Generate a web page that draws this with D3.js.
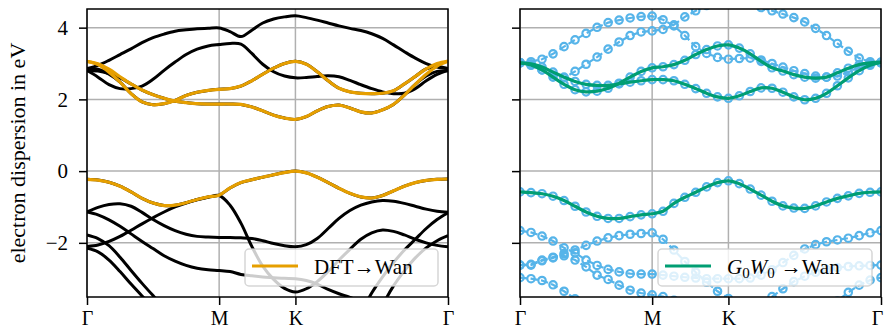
<!DOCTYPE html>
<html><head><meta charset="utf-8">
<script src="https://cdn.jsdelivr.net/npm/d3@7"></script>
<style>body{margin:0;background:#fff} svg{display:block} text{font-family:"Liberation Serif",serif}</style>
</head><body><svg id="c" width="884" height="331"></svg>
<script>
// ---- k-path / axes ----
const kTickPos = [0, 0.5774, 0.9107, 1.5774];
const kTickLabels = ["Γ", "M", "K", "Γ"];
const kSteps = [12, 7, 14];
const yTickValues = [-2, 0, 2, 4];
const yDomain = [-3.51, 4.52];

// ---- left panel: DFT bands (black) ----
const dftA = [2.86,2.95,3.09,3.25,3.41,3.58,3.72,3.82,3.90,3.94,3.97,3.98,3.99, 3.89,3.75,3.93,4.13,4.24,4.30,4.33, 4.28,4.21,4.13,4.05,3.98,3.92,3.83,3.70,3.52,3.33,3.15,3.00,2.90,2.86];
const dftB = [2.81,2.62,2.41,2.30,2.30,2.37,2.56,2.81,3.04,3.25,3.40,3.49,3.53, 3.56,3.54,3.28,2.98,2.77,2.65,2.60, 2.61,2.64,2.66,2.63,2.53,2.41,2.30,2.21,2.16,2.17,2.30,2.52,2.70,2.81];
const dftC = [2.86,2.84,2.70,2.48,2.16,1.93,1.85,1.88,1.97,2.11,2.20,2.25,2.28, 2.30,2.37,2.52,2.70,2.87,3.00,3.06, 2.98,2.77,2.52,2.31,2.21,2.17,2.16,2.17,2.24,2.43,2.64,2.85,2.92,2.86];
const dftD = [2.80,2.79,2.72,2.60,2.43,2.26,2.13,2.03,1.95,1.91,1.88,1.87,1.87, 1.87,1.86,1.79,1.68,1.56,1.48,1.44, 1.52,1.68,1.80,1.84,1.76,1.65,1.62,1.71,1.86,2.12,2.42,2.65,2.78,2.80];
const dftV0 = [-0.23,-0.25,-0.31,-0.42,-0.58,-0.76,-0.89,-0.96,-0.95,-0.88,-0.79,-0.72,-0.67, -0.47,-0.32,-0.24,-0.17,-0.10,-0.04,0.00, -0.05,-0.17,-0.32,-0.48,-0.62,-0.72,-0.75,-0.68,-0.55,-0.42,-0.32,-0.26,-0.23,-0.22];
const dftV1 = [-1.14,-1.01,-0.93,-0.91,-0.98,-1.15,-1.35,-1.52,-1.66,-1.76,-1.82,-1.84,-1.85, -1.85,-1.86,-1.88,-1.94,-2.02,-2.08,-2.11, -2.05,-1.88,-1.60,-1.32,-1.10,-0.95,-0.86,-0.82,-0.84,-0.90,-0.98,-1.06,-1.12,-1.15];
const dftV2 = [-1.14,-1.22,-1.36,-1.54,-1.75,-1.96,-2.16,-2.36,-2.51,-2.63,-2.71,-2.75,-2.77, -2.80,-2.88,-2.92,-2.95,-2.97,-2.99,-3.00, -3.05,-3.15,-3.30,-3.42,-3.52,-3.65,-3.85,-4.05,-4.25,-4.40,-4.50,-4.55,-4.60,-4.60];
const dftV3 = [-2.10,-2.06,-1.96,-1.82,-1.65,-1.47,-1.30,-1.14,-1.00,-0.89,-0.80,-0.73,-0.68, -0.95,-1.45,-2.10,-2.65,-3.02,-3.27,-3.37, -3.28,-3.08,-2.80,-2.48,-2.18,-1.90,-1.72,-1.64,-1.68,-1.78,-1.90,-2.00,-2.07,-2.11];
const dftV4 = [-1.78,-1.88,-2.08,-2.40,-2.77,-3.13,-3.47,-3.80,-4.10,-4.30,-4.45,-4.55,-4.60, -4.60,-4.60,-4.60,-4.60,-4.60,-4.60,-4.60, -4.60,-4.60,-4.60,-4.60,-4.60,-4.55,-4.45,-3.75,-3.20,-2.78,-2.42,-2.14,-1.94,-1.80];
const dftV5 = [-2.15,-2.25,-2.48,-2.80,-3.15,-3.48,-3.80,-4.10,-4.35,-4.50,-4.60,-4.65,-4.70, -4.70,-4.70,-4.70,-4.70,-4.70,-4.70,-4.70, -4.70,-4.70,-4.65,-4.55,-4.40,-3.95,-3.40,-2.95,-2.55,-2.20,-1.90,-1.60,-1.35,-1.16];

// ---- left panel: DFT -> Wannier (orange) ----
const wanC1 = [3.06,2.97,2.76,2.48,2.16,1.93,1.85,1.88,1.97,2.11,2.20,2.25,2.28, 2.30,2.37,2.52,2.70,2.87,3.00,3.06, 2.98,2.77,2.52,2.31,2.21,2.17,2.16,2.17,2.24,2.43,2.64,2.85,3.00,3.07];
const wanC2 = [3.06,2.99,2.84,2.63,2.43,2.26,2.13,2.03,1.95,1.91,1.88,1.87,1.87, 1.87,1.86,1.79,1.68,1.56,1.48,1.44, 1.52,1.68,1.80,1.84,1.76,1.65,1.62,1.71,1.86,2.12,2.42,2.70,2.93,3.06];
const wanV  = [-0.23,-0.25,-0.31,-0.42,-0.58,-0.76,-0.89,-0.96,-0.95,-0.88,-0.79,-0.72,-0.67, -0.47,-0.32,-0.24,-0.17,-0.10,-0.04,0.00, -0.05,-0.17,-0.32,-0.48,-0.62,-0.72,-0.75,-0.68,-0.55,-0.42,-0.32,-0.26,-0.23,-0.22];

// ---- right panel: G0W0 bands (blue circles) ----
const gwP = [3.02,3.05,3.12,3.27,3.47,3.66,3.84,4.01,4.14,4.21,4.27,4.31,4.32, 4.22,4.05,3.78,3.47,3.28,3.17,3.12, 3.14,3.15,3.10,3.00,2.90,2.80,2.72,2.65,2.62,2.65,2.76,2.90,2.98,3.02];
const gwQ = [3.03,2.95,2.82,2.68,2.60,2.78,2.98,3.18,3.40,3.60,3.78,3.88,3.91, 3.95,4.08,4.30,4.47,4.62,4.72,4.76, 4.75,4.68,4.56,4.47,4.38,4.28,4.16,3.98,3.78,3.56,3.34,3.15,3.05,3.02];
const gwR = [3.02,2.96,2.82,2.62,2.42,2.27,2.21,2.23,2.31,2.45,2.62,2.78,2.88, 2.91,2.97,3.09,3.25,3.39,3.49,3.52, 3.43,3.27,3.06,2.88,2.79,2.69,2.62,2.59,2.62,2.74,2.87,2.97,3.02,3.04];
const gwS = [3.02,2.99,2.90,2.76,2.62,2.50,2.42,2.39,2.39,2.43,2.48,2.52,2.55, 2.55,2.52,2.42,2.30,2.17,2.07,2.03, 2.10,2.22,2.32,2.31,2.20,2.07,1.99,2.03,2.17,2.38,2.60,2.80,2.95,3.03];
const gwV0 = [-0.58,-0.60,-0.63,-0.70,-0.82,-0.98,-1.14,-1.26,-1.32,-1.32,-1.27,-1.22,-1.19, -1.12,-0.90,-0.73,-0.59,-0.44,-0.32,-0.27, -0.35,-0.50,-0.67,-0.84,-0.97,-1.03,-1.04,-0.97,-0.86,-0.76,-0.69,-0.62,-0.59,-0.58];
const gwV1 = [-1.66,-1.71,-1.81,-1.95,-2.14,-2.28,-2.48,-2.63,-2.74,-2.81,-2.86,-2.87,-2.87, -2.90,-2.93,-2.96,-2.98,-3.00,-3.00,-3.00, -3.00,-2.98,-2.90,-2.75,-2.55,-2.35,-2.17,-2.05,-1.97,-1.92,-1.87,-1.80,-1.72,-1.66];
const gwV2 = [-2.62,-2.62,-2.50,-2.42,-2.30,-2.20,-2.07,-1.95,-1.86,-1.80,-1.76,-1.74,-1.72, -1.90,-2.20,-2.52,-2.82,-3.10,-3.35,-3.55, -3.72,-3.80,-3.70,-3.50,-3.28,-3.08,-2.93,-2.82,-2.74,-2.69,-2.66,-2.64,-2.63,-2.62];
const gwV3 = [-2.62,-2.60,-2.48,-2.40,-2.36,-2.48,-2.67,-2.90,-3.02,-3.18,-3.32,-3.40,-3.45, -3.50,-3.60,-3.75,-3.90,-4.00,-4.10,-4.10, -4.10,-4.10,-4.10,-4.10,-4.10,-4.10,-4.10,-4.10,-4.10,-4.10,-4.10,-4.10,-4.10,-4.10];
const gwV4 = [-2.97,-3.00,-3.05,-3.17,-3.35,-3.56,-3.80,-4.00,-4.10,-4.10,-4.10,-4.10,-4.10, -4.10,-4.10,-4.10,-4.10,-4.10,-4.10,-4.10, -4.10,-4.10,-4.10,-4.10,-4.10,-4.10,-4.10,-4.10,-4.00,-3.62,-3.38,-3.18,-3.04,-2.97];

// ---- right panel: G0W0 -> Wannier (green) ----
const gwWanC1 = [3.02,2.96,2.82,2.62,2.42,2.27,2.21,2.23,2.31,2.45,2.62,2.78,2.88, 2.91,2.97,3.09,3.25,3.39,3.49,3.52, 3.43,3.27,3.06,2.88,2.79,2.69,2.62,2.59,2.62,2.74,2.87,2.97,3.02,3.04];
const gwWanC2 = [3.02,2.99,2.90,2.76,2.62,2.50,2.42,2.39,2.39,2.43,2.48,2.52,2.55, 2.55,2.52,2.42,2.30,2.17,2.07,2.03, 2.10,2.22,2.32,2.31,2.20,2.07,1.99,2.03,2.17,2.38,2.60,2.80,2.95,3.03];
const gwWanV  = [-0.58,-0.60,-0.63,-0.70,-0.82,-0.98,-1.14,-1.26,-1.32,-1.32,-1.27,-1.22,-1.19, -1.12,-0.90,-0.73,-0.59,-0.44,-0.32,-0.27, -0.35,-0.50,-0.67,-0.84,-0.97,-1.03,-1.04,-0.97,-0.86,-0.76,-0.69,-0.62,-0.59,-0.58];

// ---- build k grid along Γ-M-K-Γ ----
const kGrid = [kTickPos[0]];
kSteps.forEach((n, s) => {
  for (let j = 1; j <= n; j++) kGrid.push(kTickPos[s] + (kTickPos[s+1] - kTickPos[s]) * j / n);
});

const COLORS = {dft: "#000000", wan: "#E69F00", gw: "#56B4E9", gwwan: "#009E73"};
const FONT = "'Liberation Serif', serif";
const svg = d3.select("#c");
const W = 884, TOP = 9, BOT = 297;
const y = d3.scaleLinear().domain(yDomain).range([BOT, TOP]);

function panel(id, x0, x1, showY, drawData, legend) {
  const x = d3.scaleLinear().domain([kTickPos[0], kTickPos[3]]).range([x0, x1]);
  const g = svg.append("g");
  g.append("clipPath").attr("id", "clip" + id).append("rect")
    .attr("x", x0).attr("y", TOP).attr("width", x1 - x0).attr("height", BOT - TOP);
  // grid
  const grid = g.append("g").attr("stroke", "#b0b0b0").attr("stroke-width", 1.5);
  kTickPos.forEach(k => grid.append("line").attr("x1", x(k)).attr("x2", x(k)).attr("y1", TOP).attr("y2", BOT));
  yTickValues.forEach(v => grid.append("line").attr("x1", x0).attr("x2", x1).attr("y1", y(v)).attr("y2", y(v)));
  const data = g.append("g").attr("clip-path", `url(#clip${id})`);
  drawData(data, x);
  // frame
  g.append("rect").attr("x", x0).attr("y", TOP).attr("width", x1 - x0).attr("height", BOT - TOP)
    .attr("fill", "none").attr("stroke", "#000").attr("stroke-width", 1.5);
  // axes
  const ya = d3.axisLeft(y).tickValues(yTickValues).tickSize(8).tickPadding(11)
    .tickFormat(showY ? d3.format("d") : () => "");
  const ag = g.append("g").attr("transform", `translate(${x0},0)`).call(ya);
  const xa = d3.axisBottom(x).tickValues(kTickPos).tickSize(8).tickPadding(6)
    .tickFormat((d, i) => kTickLabels[i]);
  const bg = g.append("g").attr("transform", `translate(0,${BOT})`).call(xa);
  [ag, bg].forEach(a => {
    a.attr("font-family", null);
    a.select(".domain").remove();
    a.selectAll(".tick line").attr("stroke", "#000").attr("stroke-width", 1.5);
    a.selectAll(".tick text").attr("fill", "#000").style("font-size", "21px").style("font-family", FONT);
  });
  bg.selectAll(".tick text").style("font-size", "20px");
  // keep the last label inside the page
  bg.selectAll(".tick text").filter((d, i) => x(d) + 7 > W).attr("dx", W - 7 - x1);
  if (!showY) ag.selectAll(".tick text").remove();
  // legend
  const lg = g.append("g");
  lg.append("rect").attr("x", legend.x).attr("y", 249).attr("width", legend.w).attr("height", 37)
    .attr("rx", 4).attr("fill", "rgba(255,255,255,0.8)").attr("stroke", "rgba(204,204,204,0.8)").attr("stroke-width", 1.5);
  lg.append("line").attr("x1", legend.x + 7).attr("x2", legend.x + 53).attr("y1", 266).attr("y2", 266)
    .attr("stroke", legend.color).attr("stroke-width", 3.2);
  legend.text(lg.append("text").attr("x", legend.x + 69).attr("y", 274)
    .style("font-size", "21px").style("font-family", FONT).attr("fill", "#000"));
}

const line = (x, curve) => d3.line().x((d, i) => x(kGrid[i])).y(d => y(d)).curve(curve);

panel("L", 87, 448, true, (g, x) => {
  const L = line(x, d3.curveCatmullRom.alpha(0.5));
  [dftA, dftB, dftC, dftD, dftV0, dftV1, dftV2, dftV3, dftV4, dftV5].forEach(b =>
    g.append("path").attr("d", L(b)).attr("fill", "none").attr("stroke", COLORS.dft).attr("stroke-width", 3));
  [wanC1, wanC2, wanV].forEach(b =>
    g.append("path").attr("d", L(b)).attr("fill", "none").attr("stroke", COLORS.wan).attr("stroke-width", 3.2));
}, {x: 245, w: 193, color: COLORS.wan, text: t => t.text("DFT→Wan")});

panel("R", 520, 881, false, (g, x) => {
  const Llin = line(x, d3.curveLinear);
  const L = line(x, d3.curveCatmullRom.alpha(0.5));
  [gwP, gwQ, gwR, gwS, gwV0, gwV1, gwV2, gwV3, gwV4].forEach(b => {
    g.append("path").attr("d", Llin(b)).attr("fill", "none").attr("stroke", COLORS.gw)
      .attr("stroke-width", 2.2).attr("stroke-dasharray", "7.4,3.2");
    g.append("g").selectAll("circle").data(b).join("circle")
      .attr("cx", (d, i) => x(kGrid[i])).attr("cy", d => y(d)).attr("r", 3.7)
      .attr("fill", "none").attr("stroke", COLORS.gw).attr("stroke-width", 2.2);
  });
  [gwWanC1, gwWanC2, gwWanV].forEach(b =>
    g.append("path").attr("d", L(b)).attr("fill", "none").attr("stroke", COLORS.gwwan).attr("stroke-width", 3.2));
}, {x: 658, w: 214, color: COLORS.gwwan, text: t => {
  t.append("tspan").style("font-style", "italic").text("G");
  t.append("tspan").attr("dy", 4).style("font-size", "15px").text("0");
  t.append("tspan").attr("dy", -4).style("font-style", "italic").text("W");
  t.append("tspan").attr("dy", 4).style("font-size", "15px").text("0");
  t.append("tspan").attr("dy", -4).attr("dx", 6).text("→Wan");
}});

// y label
svg.append("text").attr("transform", "translate(25,153) rotate(-90)").attr("text-anchor", "middle")
  .style("font-size", "22px").style("font-family", FONT).attr("fill", "#000").text("electron dispersion in eV");
</script></body></html>
